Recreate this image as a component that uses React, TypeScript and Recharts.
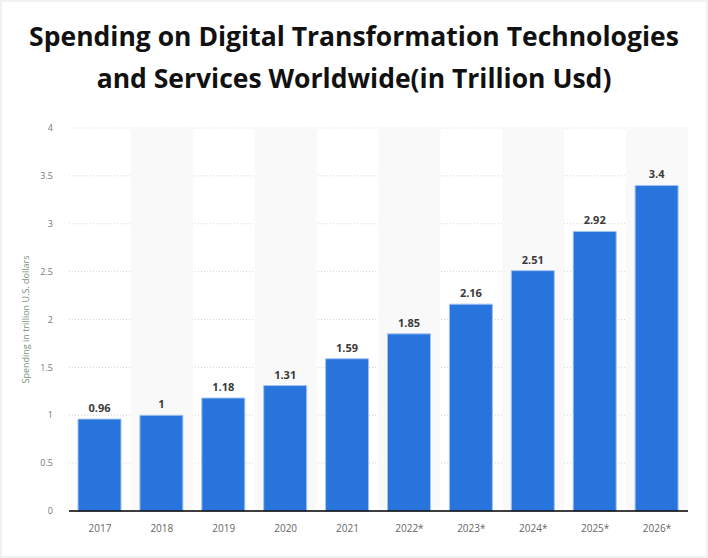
import { BarChart, Bar, XAxis, YAxis, CartesianGrid, LabelList, ReferenceArea } from "recharts";

// years as shown on the x axis (* = forecast)
const years = ["2017", "2018", "2019", "2020", "2021", "2022*", "2023*", "2024*", "2025*", "2026*"];
// spending in trillion U.S. dollars
const spending = [0.96, 1, 1.18, 1.31, 1.59, 1.85, 2.16, 2.51, 2.92, 3.4];
const yTicks = [0, 0.5, 1, 1.5, 2, 2.5, 3, 3.5, 4];
// columns with the light grey backdrop
const shadedYears = ["2018", "2020", "2022*", "2024*", "2026*"];

const data = years.map((year, i) => ({ year, value: spending[i] }));

const FONT = "'Open Sans', sans-serif";

const YLabel = ({ viewBox }: any) => {
  const x = viewBox.x - 4;
  const y = viewBox.y + viewBox.height / 2;
  return (
    <text
      x={x}
      y={y}
      transform={`rotate(-90, ${x}, ${y})`}
      textAnchor="middle"
      dominantBaseline="central"
      fontSize={9}
      fill="#7d8f7d"
      fontFamily={FONT}
    >
      Spending in trillion U.S. dollars
    </text>
  );
};

export default function App() {
  return (
    <div
      style={{
        position: "absolute",
        left: 0,
        top: 0,
        width: 708,
        height: 558,
        background: "#fff",
        overflow: "hidden",
      }}
    >
      <div
        style={{
          position: "absolute",
          top: 15,
          left: 0,
          width: 708,
          textAlign: "center",
          fontFamily: FONT,
          fontWeight: 700,
          fontSize: 26.5,
          lineHeight: "42px",
          color: "#111",
        }}
      >
        Spending on Digital Transformation Technologies
        <br />
        and Services Worldwide(in Trillion Usd)
      </div>
      <div style={{ position: "absolute", left: 0, top: 0 }}>
        <BarChart
          width={708}
          height={558}
          data={data}
          margin={{ top: 128, right: 20, bottom: 0, left: 29 }}
          barCategoryGap={0}
        >
          {shadedYears.map((y) => (
            <ReferenceArea key={y} x1={y} x2={y} fill="#f9f9f9" fillOpacity={1} stroke="none" ifOverflow="visible" />
          ))}
          <CartesianGrid vertical={false} stroke="#d4d4d4" strokeDasharray="1 2" />
          <XAxis
            dataKey="year"
            height={47}
            axisLine={{ stroke: "#000", strokeWidth: 1.5 }}
            tickLine={false}
            tick={{ fontSize: 10, fill: "#666", fontFamily: FONT }}
            tickMargin={8}
            interval={0}
          />
          <YAxis
            width={40}
            domain={[0, 4]}
            ticks={yTicks}
            axisLine={false}
            tickLine={false}
            tick={{ fontSize: 9, fill: "#777", fontFamily: FONT }}
            tickMargin={10}
            label={<YLabel />}
          />
          <Bar dataKey="value" fill="#2774dc" stroke="#a4c4f0" strokeWidth={1} barSize={43} isAnimationActive={false}>
            <LabelList
              dataKey="value"
              position="top"
              offset={7}
              fontSize={11}
              fontWeight={700}
              fill="#3a3a3a"
              fontFamily={FONT}
            />
          </Bar>
        </BarChart>
      </div>
      <div
        style={{
          position: "absolute",
          inset: 0,
          border: "2px solid #f1f1f1",
          pointerEvents: "none",
        }}
      />
    </div>
  );
}
